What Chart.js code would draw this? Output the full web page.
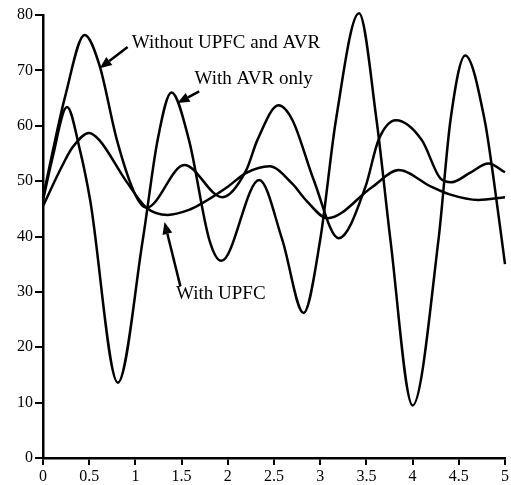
<!DOCTYPE html>
<html>
<head>
<meta charset="utf-8">
<script src="https://cdn.jsdelivr.net/npm/chart.js@4/dist/chart.umd.min.js"></script>
<style>
html,body{margin:0;padding:0;background:#fff;}
#c{display:block;}
</style>
</head>
<body>
<canvas id="c" width="511" height="485" style="width:511px;height:485px"></canvas>
<script>
// Series: Without UPFC and AVR
const tNone = [0, 0.1, 0.24, 0.45, 0.61, 0.8, 1.0, 1.12, 1.53, 1.94, 2.2, 2.32, 2.55, 2.7, 2.93, 3.2, 3.49, 3.63, 3.82, 4.1, 4.3, 4.42, 4.63, 4.82, 5.0];
const vNone = [47, 55, 65.3, 76.4, 71, 57.4, 47.5, 45.2, 52.9, 47.1, 52, 57.4, 63.7, 61, 50.2, 39.7, 49, 57.4, 61, 57.4, 50.5, 49.8, 51.6, 53.2, 51.6];
// Series: With AVR only
const tAvr = [0, 0.1, 0.26, 0.4, 0.51, 0.81, 1.08, 1.24, 1.39, 1.58, 1.8, 1.93, 2.34, 2.59, 2.82, 3.0, 3.17, 3.42, 3.61, 3.76, 4.0, 4.28, 4.41, 4.57, 4.78, 4.88, 5.0];
const vAvr = [46.5, 54, 63.4, 55.6, 46.6, 13.6, 39.4, 57.4, 66, 57.4, 39.4, 35.6, 50.2, 39.4, 26.2, 39.4, 61, 80.3, 61, 39.4, 9.5, 39.4, 61, 72.7, 61, 50, 35];
// Series: With UPFC
const tUpfc = [0, 0.2, 0.32, 0.5, 0.61, 0.9, 1.12, 1.35, 1.58, 1.69, 2.0, 2.2, 2.45, 2.7, 2.85, 3.08, 3.56, 3.85, 4.2, 4.4, 4.71, 5.0];
const vUpfc = [45.5, 52.5, 56.1, 58.7, 57.4, 50, 45.2, 43.9, 44.8, 45.7, 49, 51.5, 52.7, 49.5, 46.5, 43.3, 48.9, 52, 49, 47.6, 46.6, 47.1];

// Axis ticks
const xTicks = [0, 0.5, 1, 1.5, 2, 2.5, 3, 3.5, 4, 4.5, 5];
const yTicks = [0, 10, 20, 30, 40, 50, 60, 70, 80];

// Annotation labels (text anchor and arrow, in data units)
const annTexts = ["Without UPFC and AVR", "With AVR only", "With UPFC"];
const annTextX = [0.96, 1.64, 1.44];
const annTextY = [74.9, 68.4, 29.6];
const annFromX = [0.916, 1.69, 1.487];
const annFromY = [74.2, 66.2, 31.0];
const annToX = [0.614, 1.455, 1.315];
const annToY = [70.4, 64.1, 42.6];

const zip = (t, v) => t.map((x, i) => ({x: x, y: v[i]}));

const annotatePlugin = {
  id: 'annotate',
  afterDatasetsDraw(chart) {
    const ctx = chart.ctx, xs = chart.scales.x, ys = chart.scales.y;
    ctx.save();
    ctx.fillStyle = '#000';
    ctx.strokeStyle = '#000';
    ctx.font = '19px "Liberation Serif", "Times New Roman", serif';
    ctx.textBaseline = 'middle';
    ctx.textAlign = 'left';
    annTexts.forEach((txt, i) => {
      ctx.fillText(txt, xs.getPixelForValue(annTextX[i]), ys.getPixelForValue(annTextY[i]));
      const x1 = xs.getPixelForValue(annFromX[i]), y1 = ys.getPixelForValue(annFromY[i]);
      const x2 = xs.getPixelForValue(annToX[i]), y2 = ys.getPixelForValue(annToY[i]);
      const ang = Math.atan2(y2 - y1, x2 - x1);
      const hl = 12, hw = 5;
      const bx = x2 - hl * Math.cos(ang), by = y2 - hl * Math.sin(ang);
      ctx.lineWidth = 2.5;
      ctx.beginPath();
      ctx.moveTo(x1, y1);
      ctx.lineTo(bx, by);
      ctx.stroke();
      ctx.beginPath();
      ctx.moveTo(x2, y2);
      ctx.lineTo(bx + hw * Math.sin(ang), by - hw * Math.cos(ang));
      ctx.lineTo(bx - hw * Math.sin(ang), by + hw * Math.cos(ang));
      ctx.closePath();
      ctx.fill();
    });
    ctx.restore();
  }
};

const lineDs = (label, t, v) => ({
  label: label,
  data: zip(t, v),
  borderColor: '#000',
  borderWidth: 2.5,
  pointRadius: 0,
  fill: false,
  cubicInterpolationMode: 'monotone',
  clip: false
});

const tickFont = {family: '"Liberation Serif", "Times New Roman", serif', size: 16};

new Chart(document.getElementById('c'), {
  type: 'line',
  data: {
    datasets: [
      lineDs('Without UPFC and AVR', tNone, vNone),
      lineDs('With AVR only', tAvr, vAvr),
      lineDs('With UPFC', tUpfc, vUpfc)
    ]
  },
  options: {
    responsive: false,
    animation: false,
    devicePixelRatio: 1,
    layout: {padding: {top: 15, right: 4, left: 0, bottom: 0}},
    plugins: {legend: {display: false}, tooltip: {enabled: false}},
    scales: {
      x: {
        type: 'linear', min: 0, max: 5,
        afterBuildTicks: s => { s.ticks = xTicks.map(v => ({value: v})); },
        afterFit: s => { s.height = 27; },
        ticks: {color: '#000', font: tickFont, padding: 2, maxRotation: 0, autoSkip: false,
                callback: v => String(v)},
        grid: {display: true, drawOnChartArea: false, drawTicks: true, tickLength: 7, color: '#000', lineWidth: 2},
        border: {display: true, color: '#000', width: 2.5}
      },
      y: {
        min: 0, max: 80,
        afterBuildTicks: s => { s.ticks = yTicks.map(v => ({value: v})); },
        afterFit: s => { s.width = 43; },
        ticks: {color: '#000', font: tickFont, padding: 2, callback: v => String(v)},
        grid: {display: true, drawOnChartArea: false, drawTicks: true, tickLength: 8, color: '#000', lineWidth: 2},
        border: {display: true, color: '#000', width: 2.5}
      }
    }
  },
  plugins: [annotatePlugin]
});
</script>
</body>
</html>
